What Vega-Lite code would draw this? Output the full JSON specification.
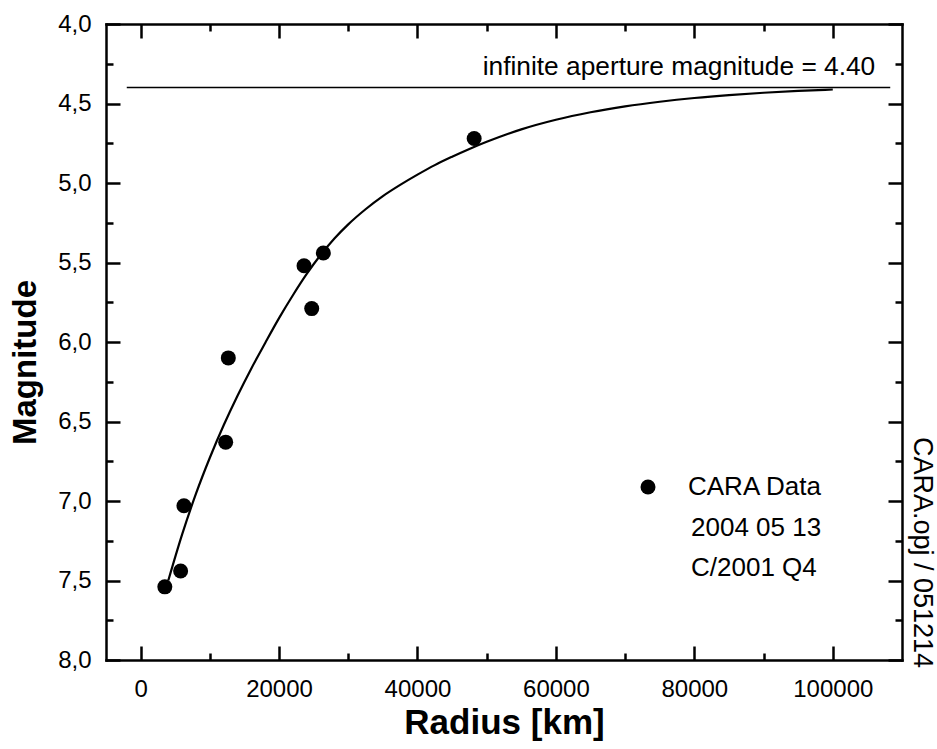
{
  "$schema": "https://vega.github.io/schema/vega-lite/v6.json",
  "autosize": "none",
  "width": 796,
  "height": 636,
  "padding": {"left": 106, "top": 24, "right": 35, "bottom": 89},
  "background": "white",
  "config": {
    "font": "Liberation Sans",
    "view": {"stroke": null},
    "axis": {
      "grid": false,
      "domainColor": "black",
      "domainWidth": 2.5,
      "domainCap": "square",
      "tickColor": "black",
      "tickWidth": 2.5,
      "labelColor": "black",
      "labelFontSize": 24,
      "titleColor": "black"
    }
  },
  "datasets": {
    "points": [
      {"r": 3500, "m": 7.54, "series": "CARA Data"},
      {"r": 5780, "m": 7.44, "series": "CARA Data"},
      {"r": 6260, "m": 7.03, "series": "CARA Data"},
      {"r": 12290, "m": 6.63, "series": "CARA Data"},
      {"r": 12670, "m": 6.10, "series": "CARA Data"},
      {"r": 23610, "m": 5.52, "series": "CARA Data"},
      {"r": 24720, "m": 5.79, "series": "CARA Data"},
      {"r": 26400, "m": 5.44, "series": "CARA Data"},
      {"r": 48190, "m": 4.72, "series": "CARA Data"}
    ],
    "curve": [
      {"r": 4000, "m": 7.50},
      {"r": 6000, "m": 7.21},
      {"r": 8000, "m": 6.954},
      {"r": 10000, "m": 6.728},
      {"r": 12000, "m": 6.524},
      {"r": 14000, "m": 6.338},
      {"r": 16000, "m": 6.166},
      {"r": 18000, "m": 6.006},
      {"r": 20000, "m": 5.85},
      {"r": 22000, "m": 5.706},
      {"r": 24000, "m": 5.572},
      {"r": 26000, "m": 5.453},
      {"r": 28000, "m": 5.349},
      {"r": 30000, "m": 5.26},
      {"r": 32500, "m": 5.165},
      {"r": 35000, "m": 5.0825},
      {"r": 37500, "m": 5.012},
      {"r": 40000, "m": 4.9475},
      {"r": 42500, "m": 4.8875},
      {"r": 45000, "m": 4.835},
      {"r": 47500, "m": 4.786},
      {"r": 50000, "m": 4.741},
      {"r": 55000, "m": 4.6625},
      {"r": 60000, "m": 4.602},
      {"r": 65000, "m": 4.555},
      {"r": 70000, "m": 4.518},
      {"r": 75000, "m": 4.489},
      {"r": 80000, "m": 4.4655},
      {"r": 85000, "m": 4.447},
      {"r": 90000, "m": 4.4325},
      {"r": 95000, "m": 4.421},
      {"r": 100000, "m": 4.412}
    ],
    "limit": [
      {"m": 4.4, "r1": -2000, "r2": 108300, "label": "infinite aperture magnitude = 4.40"}
    ]
  },
  "resolve": {"axis": {"x": "independent", "y": "independent"}},
  "layer": [
    {
      "data": {"name": "curve"},
      "mark": {"type": "line", "color": "black", "strokeWidth": 2.2, "interpolate": "monotone"},
      "encoding": {
        "x": {
          "field": "r", "type": "quantitative",
          "scale": {"domain": [-5000, 110000], "nice": false, "zero": false},
          "axis": {
            "orient": "bottom", "values": [0, 20000, 40000, 60000, 80000, 100000],
            "format": "d", "tickSize": -14, "labelPadding": 31,
            "title": "Radius [km]", "titleFontSize": 35, "titleFontWeight": "bold", "titlePadding": 4
          }
        },
        "y": {
          "field": "m", "type": "quantitative",
          "scale": {"domain": [4, 8], "nice": false, "zero": false, "reverse": true},
          "axis": {
            "orient": "left", "values": [4, 4.5, 5, 5.5, 6, 6.5, 7, 7.5, 8],
            "labelExpr": "replace(format(datum.value, '.1f'), '.', ',')",
            "tickSize": -14, "labelPadding": 29,
            "title": "Magnitude", "titleFontSize": 33, "titleFontWeight": "bold", "titlePadding": 15,
            "titleY": 338
          }
        }
      }
    },
    {
      "data": {"name": "points"},
      "mark": {"type": "point", "filled": true, "opacity": 1, "size": 225, "shape": "circle"},
      "encoding": {
        "x": {
          "field": "r", "type": "quantitative",
          "axis": {
            "orient": "bottom", "values": [10000, 30000, 50000, 70000, 90000],
            "labels": false, "domain": false, "tickSize": -7, "title": null
          }
        },
        "y": {
          "field": "m", "type": "quantitative",
          "axis": {
            "orient": "left", "values": [4.25, 4.75, 5.25, 5.75, 6.25, 6.75, 7.25, 7.75],
            "labels": false, "domain": false, "tickSize": -7, "title": null
          }
        },
        "color": {
          "field": "series", "type": "nominal",
          "scale": {"range": ["black"]},
          "legend": {
            "orient": "none", "legendX": 529, "legendY": 450,
            "padding": 0, "symbolSize": 225, "symbolType": "circle",
            "labelFontSize": 26, "labelOffset": 27, "labelColor": "black",
            "title": ["2004 05 13", "C/2001 Q4"],
            "titleOrient": "bottom", "titleAnchor": "start", "titleBaseline": "top",
            "titleFontSize": 26, "titleFontWeight": "normal", "titleColor": "black",
            "titleLineHeight": 39.5, "titlePadding": 15,
            "encoding": {"title": {"dx": {"value": 56}}}
          }
        }
      }
    },
    {
      "data": {"name": "limit"},
      "mark": {"type": "rule", "color": "black", "strokeWidth": 1.5},
      "encoding": {
        "x": {
          "field": "r1", "type": "quantitative",
          "axis": {
            "orient": "top", "values": [0, 20000, 40000, 60000, 80000, 100000],
            "labels": false, "tickSize": -14, "title": null
          }
        },
        "x2": {"field": "r2"},
        "y": {
          "field": "m", "type": "quantitative",
          "axis": {
            "orient": "right", "values": [4, 4.5, 5, 5.5, 6, 6.5, 7, 7.5, 8],
            "labels": false, "tickSize": -14,
            "title": "CARA.opj / 051214", "titleFontSize": 27, "titleFontWeight": "normal",
            "titleAngle": 90, "titleY": 528, "titlePadding": 4
          }
        }
      }
    },
    {
      "data": {"name": "limit"},
      "mark": {"type": "text", "align": "right", "baseline": "alphabetic", "dx": -15, "dy": -13, "fontSize": 26.3, "color": "black"},
      "encoding": {
        "x": {
          "field": "r2", "type": "quantitative",
          "axis": {
            "orient": "top", "values": [10000, 30000, 50000, 70000, 90000],
            "labels": false, "domain": false, "tickSize": -7, "title": null
          }
        },
        "y": {
          "field": "m", "type": "quantitative",
          "axis": {
            "orient": "right", "values": [4.25, 4.75, 5.25, 5.75, 6.25, 6.75, 7.25, 7.75],
            "labels": false, "domain": false, "tickSize": -7, "title": null
          }
        },
        "text": {"field": "label"}
      }
    }
  ]
}
